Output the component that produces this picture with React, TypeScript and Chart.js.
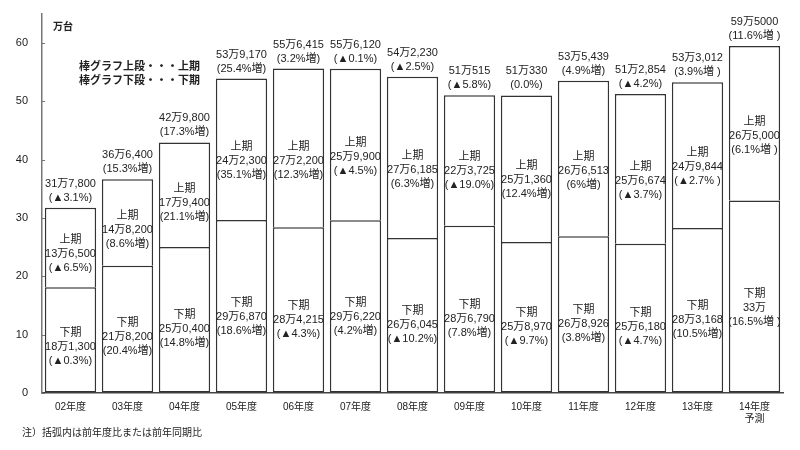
import React, { useEffect, useRef } from "react";
import { Chart, registerables } from "chart.js";

Chart.register(...registerables);

const categories: (string | string[])[] = [
  "02年度", "03年度", "04年度", "05年度", "06年度", "07年度", "08年度",
  "09年度", "10年度", "11年度", "12年度", "13年度", ["14年度", "予測"],
];

// 下期 (lower segment), 万台
const lowerValues = [18.13, 21.82, 25.04, 29.687, 28.4215, 29.622, 26.6045, 28.679, 25.897, 26.8926, 25.618, 28.3168, 33];
// 上期 (upper segment), 万台
const upperValues = [13.65, 14.82, 17.94, 24.23, 27.22, 25.99, 27.6185, 22.3725, 25.136, 26.6513, 25.6674, 24.9844, 26.5];

const totalLabels = ["31万7,800", "36万6,400", "42万9,800", "53万9,170", "55万6,415", "55万6,120", "54万2,230", "51万515", "51万330", "53万5,439", "51万2,854", "53万3,012", "59万5000"];
const totalChange = ["(▲3.1%)", "(15.3%増)", "(17.3%増)", "(25.4%増)", "(3.2%増)", "(▲0.1%)", "(▲2.5%)", "(▲5.8%)", "(0.0%)", "(4.9%増)", "(▲4.2%)", "(3.9%増 )", "(11.6%増 )"];
const upperLabels = ["13万6,500", "14万8,200", "17万9,400", "24万2,300", "27万2,200", "25万9,900", "27万6,185", "22万3,725", "25万1,360", "26万6,513", "25万6,674", "24万9,844", "26万5,000"];
const upperChange = ["(▲6.5%)", "(8.6%増)", "(21.1%増)", "(35.1%増)", "(12.3%増)", "(▲4.5%)", "(6.3%増)", "(▲19.0%)", "(12.4%増)", "(6%増)", "(▲3.7%)", "(▲2.7% )", "(6.1%増 )"];
const lowerLabels = ["18万1,300", "21万8,200", "25万0,400", "29万6,870", "28万4,215", "29万6,220", "26万6,045", "28万6,790", "25万8,970", "26万8,926", "25万6,180", "28万3,168", "33万"];
const lowerChange = ["(▲0.3%)", "(20.4%増)", "(14.8%増)", "(18.6%増)", "(▲4.3%)", "(4.2%増)", "(▲10.2%)", "(7.8%増)", "(▲9.7%)", "(3.8%増)", "(▲4.7%)", "(10.5%増)", "(16.5%増 )"];

const yTicks = [0, 10, 20, 30, 40, 50, 60];

const FONT = "'Liberation Sans', Arial, 'Noto Sans CJK JP', sans-serif";
const TEXT = "#222";

const labelPlugin = {
  id: "labels",
  afterDatasetsDraw(chart: any) {
    const ctx = chart.ctx;
    const x = chart.scales.x;
    const y = chart.scales.y;
    ctx.save();
    ctx.fillStyle = TEXT;
    ctx.textAlign = "center";
    ctx.textBaseline = "middle";
    ctx.font = `11px ${FONT}`;
    for (let i = 0; i < categories.length; i++) {
      const cx = x.getPixelForValue(i);
      const lo = lowerValues[i];
      const up = upperValues[i];
      const topY = y.getPixelForValue(lo + up);
      ctx.fillText(totalLabels[i], cx, topY - 24);
      ctx.fillText(totalChange[i], cx, topY - 10);
      const uy = y.getPixelForValue(lo + up * 0.42);
      ctx.fillText("上期", cx, uy - 14);
      ctx.fillText(upperLabels[i], cx, uy);
      ctx.fillText(upperChange[i], cx, uy + 14);
      const ly = y.getPixelForValue(lo * 0.44);
      ctx.fillText("下期", cx, ly - 14);
      ctx.fillText(lowerLabels[i], cx, ly);
      ctx.fillText(lowerChange[i], cx, ly + 14);
    }
    // tiny inner tick marks on the y axis
    ctx.strokeStyle = "#777";
    ctx.lineWidth = 1;
    for (const v of yTicks) {
      const py = Math.round(y.getPixelForValue(v)) + 0.5;
      ctx.beginPath();
      ctx.moveTo(chart.chartArea.left, py);
      ctx.lineTo(chart.chartArea.left + 3, py);
      ctx.stroke();
    }
    // unit
    ctx.textAlign = "left";
    ctx.font = `bold 10px ${FONT}`;
    ctx.fillText("万台", chart.chartArea.left + 11, 27);
    // legend text
    ctx.font = `bold 11px ${FONT}`;
    ctx.fillText("棒グラフ上段・・・上期", chart.chartArea.left + 37, 67);
    ctx.fillText("棒グラフ下段・・・下期", chart.chartArea.left + 37, 81);
    // note
    ctx.font = `10px ${FONT}`;
    ctx.fillText("注）括弧内は前年度比または前年同期比", 22, 433);
    ctx.restore();
  },
};

export default function App() {
  const ref = useRef<HTMLCanvasElement | null>(null);
  useEffect(() => {
    if (!ref.current) return;
    const chart = new Chart(ref.current, {
      type: "bar",
      data: {
        labels: categories as any,
        datasets: [
          {
            label: "下期",
            data: lowerValues,
            backgroundColor: "#ffffff",
            borderColor: "#333333",
            borderWidth: 1.5,
            borderSkipped: false,
            barPercentage: 0.9,
            categoryPercentage: 1,
          },
          {
            label: "上期",
            data: upperValues,
            backgroundColor: "#ffffff",
            borderColor: "#333333",
            borderWidth: 1.5,
            borderSkipped: "bottom",
            barPercentage: 0.9,
            categoryPercentage: 1,
          },
        ],
      },
      options: {
        animation: false,
        responsive: false,
        devicePixelRatio: 1,
        layout: { padding: { top: 14, right: 17, left: 0, bottom: 0 } },
        plugins: { legend: { display: false }, tooltip: { enabled: false } },
        scales: {
          x: {
            stacked: true,
            grid: { display: false },
            border: { color: "#444", width: 1.5 },
            ticks: { color: TEXT, font: { family: FONT, size: 10 }, padding: 0, maxRotation: 0 },
            afterFit: (s: any) => { s.height = 57; },
          },
          y: {
            stacked: true,
            min: 0,
            max: 65,
            grid: { display: true, drawOnChartArea: false, drawTicks: true, tickLength: 12, color: "rgba(0,0,0,0)" },
            border: { color: "#777", width: 1.5 },
            ticks: { color: TEXT, font: { family: FONT, size: 11 }, padding: 2, stepSize: 10 },
            afterBuildTicks: (s: any) => {
              s.ticks = yTicks.map((v) => ({ value: v }));
            },
            afterFit: (s: any) => { s.width = 42; },
          },
        },
      },
      plugins: [labelPlugin],
    });
    return () => chart.destroy();
  }, []);
  return (
    <div style={{ position: "absolute", left: 0, top: 0, width: 800, height: 450, background: "#fff" }}>
      <canvas ref={ref} width={800} height={450} style={{ width: 800, height: 450 }} />
    </div>
  );
}
